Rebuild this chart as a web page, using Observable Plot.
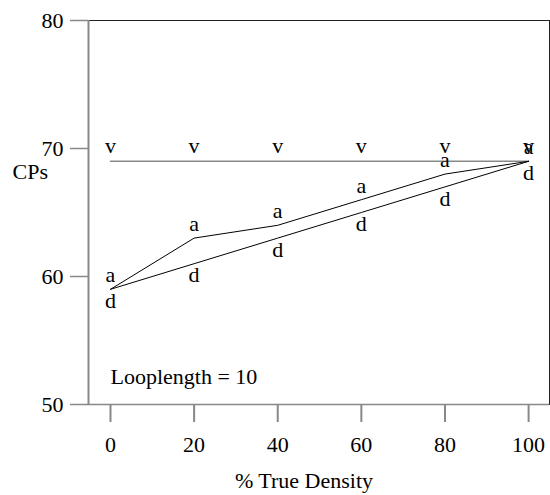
<!DOCTYPE html>
<html><head><meta charset="utf-8">
<script src="https://cdn.jsdelivr.net/npm/d3@7"></script>
<script src="https://cdn.jsdelivr.net/npm/@observablehq/plot@0.6"></script>
<style>
body{margin:0;background:#fff}
</style>
</head><body><div id="chart"></div>
<script>
const density = [0, 20, 40, 60, 80, 100];
const seriesV = [69, 69, 69, 69, 69, 69];
const seriesA = [59, 63, 64, 66, 68, 69];
const seriesD = [59, 61, 63, 65, 67, 69];
const xTicks = [0, 20, 40, 60, 80, 100];
const yTicks = [50, 60, 70, 80];
const xDomain = [-5.26, 105];
const yDomain = [50, 80];
const yLabel = "CPs";
const xLabel = "% True Density";
const note = "Looplength = 10";

const FONT = "Liberation Serif, Times New Roman, DejaVu Serif, serif";
const toRows = (vals, key) => density.map((x, i) => ({x, y: vals[i], key}));
const rowsV = toRows(seriesV, "v");
const rowsA = toRows(seriesA, "a");
const rowsD = toRows(seriesD, "d");
const T = {fontFamily: FONT, fontSize: 22, fill: "black"};

const chart = Plot.plot({
  width: 550,
  height: 495,
  marginLeft: 88,
  marginRight: 1,
  marginTop: 20,
  marginBottom: 91,
  style: {fontFamily: FONT, fontSize: "22px", background: "white", color: "black", overflow: "visible"},
  x: {domain: xDomain},
  y: {domain: yDomain},
  marks: [
    Plot.frame({stroke: "#222", strokeWidth: 1}),
    Plot.ruleX([xDomain[0]], {stroke: "#888", strokeWidth: 2}),
    Plot.ruleY([yDomain[0]], {stroke: "#888", strokeWidth: 1.5}),
    Plot.axisX({ticks: xTicks, tickSize: 18, tickPadding: 14, stroke: "#888", strokeWidth: 2, label: null, ...T}),
    Plot.axisY({ticks: yTicks, tickSize: 18, tickPadding: 7, stroke: "#888", strokeWidth: 1.5, label: null, ...T}),
    Plot.line(rowsV, {x: "x", y: "y", stroke: "#888", strokeWidth: 1.5}),
    Plot.line(rowsA, {x: "x", y: "y", stroke: "black", strokeWidth: 1}),
    Plot.line(rowsD, {x: "x", y: "y", stroke: "black", strokeWidth: 1}),
    Plot.text(rowsV, {x: "x", y: "y", text: "key", lineAnchor: "bottom", dy: -8, ...T}),
    Plot.text(rowsA, {x: "x", y: "y", text: "key", lineAnchor: "bottom", dy: -7, ...T}),
    Plot.text(rowsD, {x: "x", y: "y", text: "key", lineAnchor: "top", dy: 3, ...T}),
    Plot.text([yLabel], {text: d => d, frameAnchor: "top-left", textAnchor: "start", lineAnchor: "bottom", dx: -76, dy: 158, ...T}),
    Plot.text([xLabel], {text: d => d, frameAnchor: "bottom", lineAnchor: "bottom", dx: -15, dy: 83, ...T}),
    Plot.text([note], {text: d => d, frameAnchor: "bottom-left", textAnchor: "start", lineAnchor: "bottom", dx: 22, dy: -21, ...T})
  ]
});
document.getElementById("chart").append(chart);
</script>
</body></html>
